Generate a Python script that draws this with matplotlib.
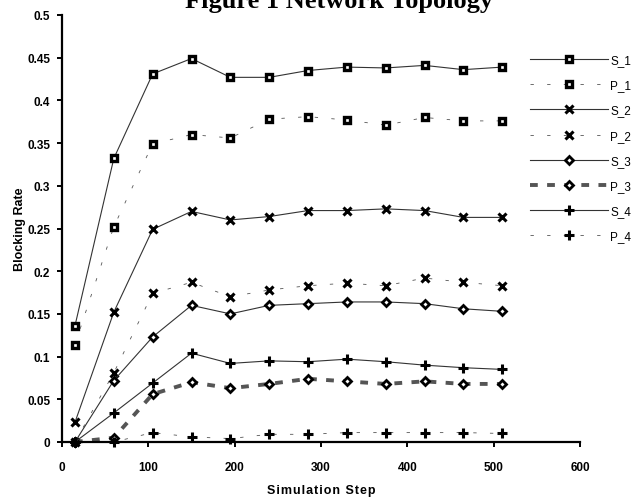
import matplotlib
matplotlib.use("Agg")
import matplotlib.pyplot as plt

steps = [15, 60, 105, 150, 195, 240, 285, 330, 375, 420, 465, 510]
S_1 = [0.136, 0.332, 0.431, 0.449, 0.427, 0.427, 0.435, 0.439, 0.438, 0.441, 0.436, 0.439]
P_1 = [0.114, 0.252, 0.349, 0.360, 0.356, 0.378, 0.381, 0.377, 0.371, 0.380, 0.376, 0.376]
S_2 = [0.023, 0.152, 0.249, 0.270, 0.260, 0.264, 0.271, 0.271, 0.273, 0.271, 0.263, 0.263]
P_2 = [0.000, 0.081, 0.174, 0.187, 0.170, 0.178, 0.183, 0.186, 0.183, 0.192, 0.187, 0.183]
S_3 = [0.000, 0.072, 0.123, 0.160, 0.150, 0.160, 0.162, 0.164, 0.164, 0.162, 0.156, 0.153]
P_3 = [0.000, 0.005, 0.056, 0.070, 0.063, 0.068, 0.074, 0.071, 0.068, 0.071, 0.068, 0.068]
S_4 = [0.000, 0.034, 0.069, 0.104, 0.092, 0.095, 0.094, 0.097, 0.094, 0.090, 0.087, 0.085]
P_4 = [0.000, 0.000, 0.011, 0.006, 0.004, 0.009, 0.009, 0.011, 0.011, 0.011, 0.011, 0.010]

series_names = ["S_1", "P_1", "S_2", "P_2", "S_3", "P_3", "S_4", "P_4"]
series_values = [S_1, P_1, S_2, P_2, S_3, P_3, S_4, P_4]
x_ticks = [0, 100, 200, 300, 400, 500, 600]
y_ticks = [0, 0.05, 0.1, 0.15, 0.2, 0.25, 0.3, 0.35, 0.4, 0.45, 0.5]
y_tick_labels = ["0", "0.05", "0.1", "0.15", "0.2", "0.25", "0.3", "0.35", "0.4", "0.45", "0.5"]

FONT = ["Liberation Sans Narrow", "Liberation Sans", "DejaVu Sans"]
plt.rcParams["font.family"] = FONT

fig = plt.figure(figsize=(6.36, 5.02), dpi=100)
ax = fig.add_axes([62 / 636, 1 - 443 / 502, (580 - 62) / 636, (443 - 16) / 502])

for name, vals in zip(series_names, series_values):
    idx = name[-1]
    if idx == "1":
        mkw = dict(marker="s", markersize=4.2, markerfacecolor="white",
                   markeredgecolor="black", markeredgewidth=2.4)
    elif idx == "2":
        mkw = dict(marker="x", markersize=6.0, markeredgecolor="black", markeredgewidth=2.2)
    elif idx == "3":
        mkw = dict(marker="D", markersize=3.8, markerfacecolor="white",
                   markeredgecolor="black", markeredgewidth=2.0)
    else:
        mkw = dict(marker="+", markersize=7, markeredgecolor="black", markeredgewidth=2.2)
    if name.startswith("S"):
        ax.plot(steps, vals, color="#333333", linewidth=0.8, label=name,
                clip_on=False, **mkw)
    elif name == "P_3":
        ax.plot(steps, vals, color="#555555", linewidth=2.8, linestyle=(0, (2.0, 2.4)),
                label=name, clip_on=False, **mkw)
    else:
        ax.plot(steps, vals, color="#555555", linewidth=0.6, linestyle=(0, (4, 16)),
                label=name, clip_on=False, **mkw)

ax.set_xlim(0, 600)
ax.set_ylim(0, 0.5)
ax.set_xticks(x_ticks)
ax.set_xticklabels([str(t) for t in x_ticks])
ax.set_yticks(y_ticks)
ax.set_yticklabels(y_tick_labels)
for s in ["top", "right"]:
    ax.spines[s].set_visible(False)
for s in ["left", "bottom"]:
    ax.spines[s].set_linewidth(1.6)
    ax.spines[s].set_color("black")
ax.tick_params(direction="out", length=3.5, width=1.4, labelsize=8.5, pad=5)
ax.tick_params(axis="x", pad=10)
for lab in ax.get_xticklabels() + ax.get_yticklabels():
    lab.set_fontweight("bold")

hs = "\u200a"
ax.set_ylabel("Blocking Rate", fontsize=9, fontweight="bold", labelpad=1)
ax.set_xlabel(hs.join("Simulation Step"), fontsize=9, fontweight="bold", labelpad=8)

leg = ax.legend(loc="upper left", bbox_to_anchor=(530 / 636, 1 - 55 / 502),
                bbox_transform=fig.transFigure, frameon=False, numpoints=1,
                handlelength=6.6, handletextpad=0.2, labelspacing=1.12,
                fontsize=8.5, borderpad=0, borderaxespad=0)

fig.text(339 / 636, 1 - 8 / 502, "Figure 1 Network Topology",
         family=["Liberation Serif", "DejaVu Serif"], fontweight="bold",
         fontsize=19, ha="center", va="baseline")

fig.savefig("out.png", dpi=100)
